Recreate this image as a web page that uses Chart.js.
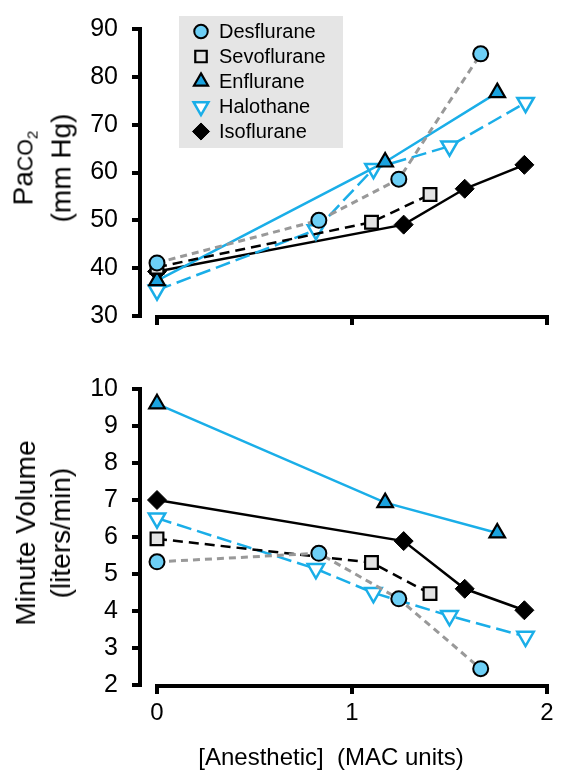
<!DOCTYPE html>
<html>
<head>
<meta charset="utf-8">
<script src="https://cdn.jsdelivr.net/npm/chart.js@4.4.1/dist/chart.umd.min.js"></script>
<style>
  body { margin: 0; background: #fff; font-family: "Liberation Sans", Arial, sans-serif; color: #000; }
  #page { position: relative; width: 565px; height: 775px; overflow: hidden; }
  canvas { position: absolute; left: 0; }
  #topChart { top: 0; }
  #botChart { top: 360px; }
  .ytitle {
    position: absolute; transform: translate(-50%, -50%) rotate(-90deg);
    font-size: 28px; line-height: 35px; text-align: center; white-space: nowrap;
  }
  .ytitle .co { font-size: 0.76em; }
  .ytitle sub { font-size: 0.72em; line-height: 0; vertical-align: -0.3em; }
  #xtitle { position: absolute; left: 331px; top: 757px; transform: translate(-50%, -50%);
    font-size: 24px; white-space: nowrap; }
</style>
</head>
<body>
<div id="page">
  <canvas id="topChart" width="565" height="345"></canvas>
  <canvas id="botChart" width="565" height="415"></canvas>
  <div class="ytitle" style="left:42px; top:168px;">Pa<span class="co">CO<sub>2</sub></span><br>(mm Hg)</div>
  <div class="ytitle" style="left:43px; top:533px;">Minute Volume<br>(liters/min)</div>
  <div id="xtitle">[Anesthetic]&nbsp; (MAC units)</div>
</div>
<script>
// anesthetic concentration (MAC units) for each agent
var macDes  = [0, 0.83, 1.24, 1.66];
var macSevo = [0, 1.10, 1.40];
var macEnf  = [0, 1.17, 1.745];
var macHalo = [0, 0.815, 1.11, 1.50, 1.89];
var macIso  = [0, 1.265, 1.578, 1.884];

// PaCO2 (mm Hg)
var paco2Des  = [41.1, 50.0, 58.6, 84.8];
var paco2Sevo = [40.2, 49.6, 55.4];
var paco2Enf  = [37.4, 62.2, 76.7];
var paco2Halo = [35.4, 48.0, 60.8, 65.5, 74.6];
var paco2Iso  = [39.3, 49.1, 56.6, 61.6];

// minute volume (liters/min)
var mvDes  = [5.33, 5.56, 4.33, 2.44];
var mvSevo = [5.95, 5.31, 4.47];
var mvEnf  = [9.6, 6.93, 6.11];
var mvHalo = [6.51, 5.14, 4.49, 3.87, 3.31];
var mvIso  = [7.0, 5.89, 4.6, 4.02];

var agents = ['Desflurane', 'Sevoflurane', 'Enflurane', 'Halothane', 'Isoflurane'];
var xTicks = [0, 1, 2];
var paco2Ticks = [30, 40, 50, 60, 70, 80, 90];
var mvTicks = [2, 3, 4, 5, 6, 7, 8, 9, 10];

var CYAN = '#1aaee8';
var looks = {
  Desflurane:  { line: '#999999', lw: 3,   dash: [7, 5],  shape: 'circle',   rot: 0,   r: 7.5, fill: '#6dcff6', edge: '#000', bw: 2 },
  Sevoflurane: { line: '#000000', lw: 2.5, dash: [10, 6], shape: 'rect',     rot: 0,   r: 9,   fill: '#e3e3e3', edge: '#000', bw: 2.2 },
  Enflurane:   { line: CYAN,      lw: 2.5, dash: [],      shape: 'triangle', rot: 0,   r: 9,   fill: '#1ba3df', edge: '#000', bw: 2.2 },
  Halothane:   { line: CYAN,      lw: 2.5, dash: [15, 6], shape: 'triangle', rot: 180, r: 9.5, fill: '#ffffff', edge: CYAN,   bw: 2.5 },
  Isoflurane:  { line: '#000000', lw: 2.5, dash: [],      shape: 'rectRot',  rot: 0,   r: 9.5, fill: '#000000', edge: '#000', bw: 1 }
};

Chart.defaults.font.family = '"Liberation Sans", Arial, sans-serif';
Chart.defaults.color = '#000';

function pts(xs, ys) {
  return xs.map(function (x, i) { return { x: x, y: ys[i] }; });
}

function makeSets(series) {
  return agents.map(function (name, i) {
    var lk = looks[name];
    return {
      label: name,
      data: pts(series[i][0], series[i][1]),
      showLine: true,
      tension: 0,
      borderColor: lk.line,
      borderWidth: lk.lw,
      borderDash: lk.dash,
      pointStyle: lk.shape,
      pointRotation: lk.rot,
      pointRadius: lk.r,
      pointHoverRadius: lk.r,
      pointBackgroundColor: lk.fill,
      pointBorderColor: lk.edge,
      pointBorderWidth: lk.bw,
      clip: false
    };
  });
}

// x axis line only spans 0..2, detached from the y axis
var xAxisLine = {
  id: 'xAxisLine',
  afterDraw: function (chart) {
    var ctx = chart.ctx, xs = chart.scales.x;
    var y = chart.chartArea.bottom + 1;
    ctx.save();
    ctx.strokeStyle = '#000';
    ctx.lineWidth = 4;
    ctx.beginPath();
    ctx.moveTo(xs.getPixelForValue(xTicks[0]) - 2, y);
    ctx.lineTo(xs.getPixelForValue(xTicks[xTicks.length - 1]) + 2, y);
    ctx.stroke();
    ctx.restore();
  }
};

var legendBox = {
  id: 'legendBox',
  afterDraw: function (chart) {
    var ctx = chart.ctx;
    ctx.save();
    ctx.fillStyle = '#e5e5e5';
    ctx.fillRect(179, 16, 164, 132);
    chart.data.datasets.forEach(function (ds, i) {
      var y = 31.5 + i * 25;
      ctx.fillStyle = ds.pointBackgroundColor;
      ctx.strokeStyle = ds.pointBorderColor;
      ctx.lineWidth = ds.pointBorderWidth;
      Chart.helpers.drawPoint(ctx, {
        pointStyle: ds.pointStyle, rotation: ds.pointRotation,
        radius: ds.pointRadius * 0.9, borderWidth: ds.pointBorderWidth
      }, 201, y);
      ctx.fillStyle = '#000';
      ctx.font = '20px "Liberation Sans", Arial, sans-serif';
      ctx.textBaseline = 'middle';
      ctx.textAlign = 'left';
      ctx.fillText(ds.label, 219, y + 1);
    });
    ctx.restore();
  }
};

function baseOptions(yMin, yMax, yTickVals, padTop, xHeight, showXLabels) {
  return {
    responsive: false,
    animation: false,
    devicePixelRatio: 1,
    layout: { padding: { left: 0, right: 18, top: padTop, bottom: 0 } },
    plugins: { legend: { display: false }, tooltip: { enabled: false } },
    scales: {
      x: {
        type: 'linear',
        min: -17 / 195,
        max: 2,
        afterBuildTicks: function (s) { s.ticks = xTicks.map(function (v) { return { value: v }; }); },
        afterFit: function (s) { s.height = xHeight; },
        grid: { display: true, drawOnChartArea: false, drawTicks: true, tickLength: 9, lineWidth: 4, color: '#000' },
        border: { display: false },
        ticks: { display: showXLabels, font: { size: 24 }, padding: 5, maxRotation: 0 }
      },
      y: {
        type: 'linear',
        min: yMin,
        max: yMax,
        afterBuildTicks: function (s) { s.ticks = yTickVals.map(function (v) { return { value: v }; }); },
        afterFit: function (s) { s.width = 140; },
        grid: { display: true, drawOnChartArea: false, drawTicks: true, tickLength: 8, lineWidth: 4, color: '#000' },
        border: { display: true, width: 4, color: '#000' },
        ticks: { font: { size: 25 }, padding: 14 }
      }
    }
  };
}

new Chart(document.getElementById('topChart'), {
  type: 'scatter',
  data: {
    datasets: makeSets([
      [macDes, paco2Des], [macSevo, paco2Sevo], [macEnf, paco2Enf],
      [macHalo, paco2Halo], [macIso, paco2Iso]
    ])
  },
  options: baseOptions(30, 90, paco2Ticks, 27, 22, false),
  plugins: [xAxisLine, legendBox]
});

new Chart(document.getElementById('botChart'), {
  type: 'scatter',
  data: {
    datasets: makeSets([
      [macDes, mvDes], [macSevo, mvSevo], [macEnf, mvEnf],
      [macHalo, mvHalo], [macIso, mvIso]
    ])
  },
  options: baseOptions(2, 10, mvTicks, 25, 90, true),
  plugins: [xAxisLine]
});
</script>
</body>
</html>
